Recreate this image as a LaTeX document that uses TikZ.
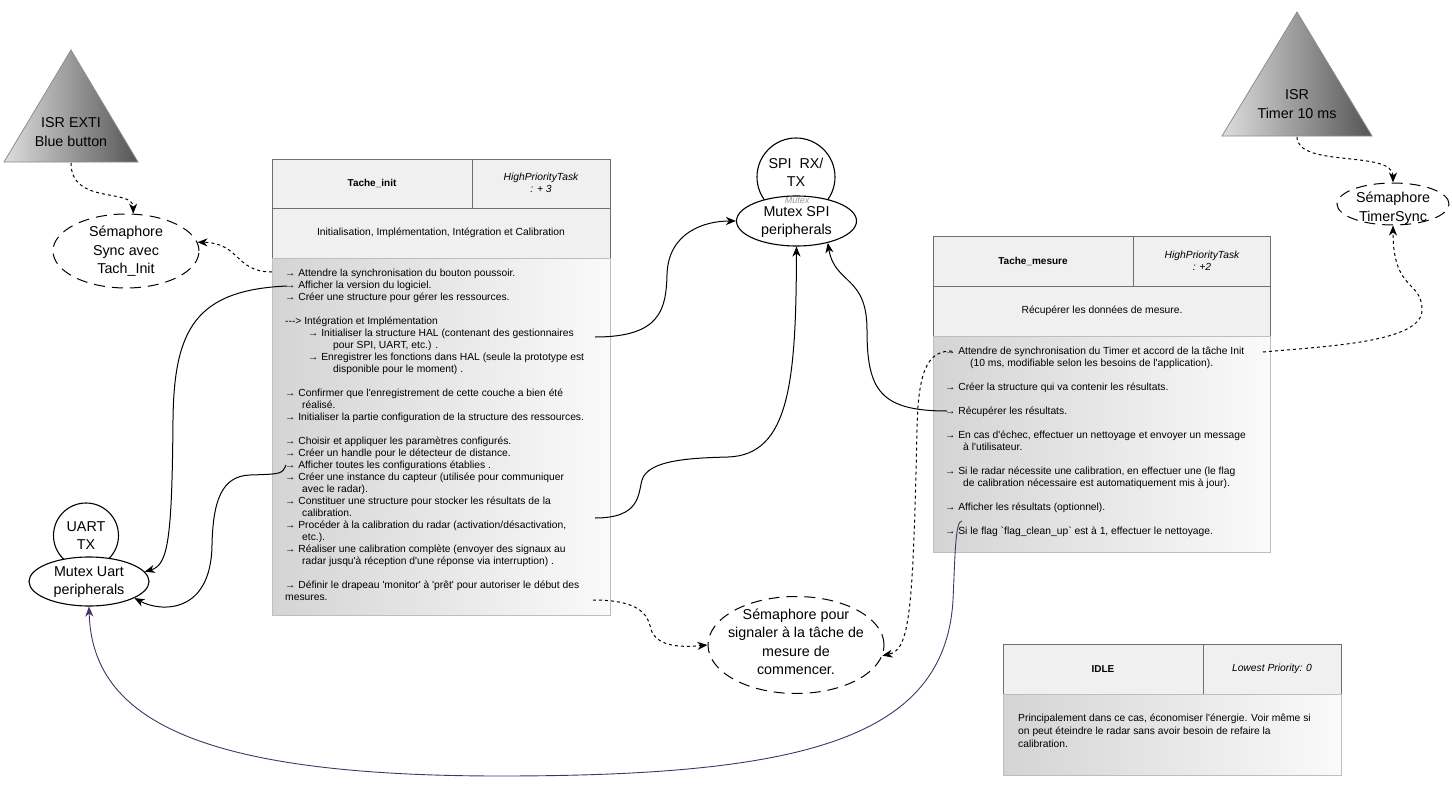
\documentclass[tikz,border=0pt]{standalone}
\usepackage{fontspec}
\setmainfont{Liberation Sans}
\usetikzlibrary{arrows.meta,shapes.geometric}
\definecolor{headfill}{RGB}{240,240,240}
\definecolor{headline}{RGB}{110,110,110}
\definecolor{bodyline}{RGB}{190,190,190}
\definecolor{bodydark}{RGB}{212,212,212}
\definecolor{bodylight}{RGB}{250,250,250}
\definecolor{isrlight}{RGB}{222,222,222}
\definecolor{isrdark}{RGB}{85,85,85}
\definecolor{uartlink}{RGB}{70,50,100}
\newcommand\apos{\textquotesingle}
\newcommand\bquote{\textasciigrave}

\begin{document}
\begin{tikzpicture}[x=1pt,y=1pt,yscale=-1,xscale=1,
  smalltxt/.style={font=\fontsize{10.3}{12}\selectfont},
  bigtxt/.style={font=\fontsize{14.3}{18.5}\selectfont, align=center, inner sep=0pt},
  bodytxt/.style={smalltxt, anchor=north west, inner sep=0pt, align=left},
  headcell/.style={draw=headline, fill=headfill, line width=0.9pt},
  bodycell/.style={draw=bodyline, left color=bodydark, right color=bodylight, line width=0.9pt},
  isrshape/.style={draw=black!45, left color=isrlight, right color=isrdark, line width=0.8pt},
  semell/.style={ellipse, draw, line width=1pt, dash pattern=on 11pt off 7pt, inner sep=0pt},
  mutexell/.style={ellipse, draw, fill=white, line width=1.1pt, inner sep=0pt},
  rescirc/.style={circle, draw, fill=white, line width=1.1pt, inner sep=0pt},
  conn/.style={line width=1pt, -{Stealth[length=10pt,width=8pt,inset=3pt]}},
  semconn/.style={conn, dash pattern=on 3pt off 3pt},
  ]
\useasboundingbox (0,0) rectangle (1452,792);

%Shape: Triangle ISR EXTI
\draw[isrshape] (71,50) -- (138,162) -- (4,162) -- cycle ;
\node[bigtxt] (extitxt) at (71,132) {ISR EXTI\\Blue button};
\coordinate (extibot) at (71,163);

%Shape: Triangle ISR Timer
\draw[isrshape] (1297,12) -- (1372,136) -- (1222,136) -- cycle ;
\node[bigtxt] (timtxt) at (1297,104) {ISR\\Timer 10 ms};
\coordinate (timbot) at (1297,137);

%Shape: Ellipse semaphores
\node[semell, minimum width=146pt, minimum height=74pt] (syncsem) at (126,251) {};
\node[bigtxt] (synctxt) at (126,251.5) {Sémaphore\\Sync avec\\Tach\_Init};
\node[semell, minimum width=112pt, minimum height=42pt] (timersem) at (1393,204) {};
\node[bigtxt] (timersemtxt) at (1393,208) {Sémaphore\\TimerSync};
\node[semell, minimum width=176pt, minimum height=97pt] (sigsem) at (796,645) {};
\node[bigtxt] (sigtxt) at (796,642) {Sémaphore pour\\signaler à la tâche de\\mesure de\\commencer.};

%Shape: Circle + Ellipse SPI
\node[rescirc, minimum size=78pt] (spicirc) at (796,177) {};
\node[bigtxt] (spitxt) at (796,172.5) {SPI\ \ RX/\\TX};
\node[mutexell, minimum width=120pt, minimum height=50pt] (mutexspi) at (796.5,221) {};
\node[bigtxt] (mutexspitxt) at (796.5,222) {Mutex SPI\\peripherals};
\node[font=\fontsize{9}{10}\selectfont\itshape, text=black!40, inner sep=0pt] (mutexlbl) at (797,200.5) {Mutex};

%Shape: Circle + Ellipse UART
\node[rescirc, minimum size=65pt] (uartcirc) at (86,535.5) {};
\node[bigtxt] (uarttxt) at (86,535.5) {UART\\TX};
\node[mutexell, minimum width=120pt, minimum height=49pt] (mutexuart) at (89,581.5) {};
\node[bigtxt] (mutexuarttxt) at (89,582) {Mutex Uart\\peripherals};

%Shape: Rectangle Tache_init
\draw[headcell] (272,159) rectangle (472,208) ;
\draw[headcell] (472,159) rectangle (610,208) ;
\draw[headcell] (272,208) rectangle (610,258) ;
\draw[bodycell] (272,258) rectangle (610,615) ;
% Text Node
\node[smalltxt, font=\fontsize{10}{12}\selectfont\bfseries] (ininame) at (372,183.5) {Tache\_init};
\node[smalltxt, font=\fontsize{10.3}{11.5}\selectfont\itshape, align=center] (iniprio) at (541,183) {HighPriorityTask\\: + 3};
\node[smalltxt] (inidesc) at (441,233) {Initialisation, Implémentation, Intégration et Calibration};
\node[bodytxt] (initext) at (285,269) {%
→ Attendre la synchronisation du bouton poussoir.\\
→ Afficher la version du logiciel.\\
→ Créer une structure pour gérer les ressources.\\[12pt]
\mbox{-}\mbox{-}\mbox{-}> Intégration et Implémentation\\
\hspace*{23pt}→ Initialiser la structure HAL (contenant des gestionnaires\\
\hspace*{48pt}pour SPI, UART, etc.) .\\
\hspace*{23pt}→ Enregistrer les fonctions dans HAL (seule la prototype est\\
\hspace*{48pt}disponible pour le moment) .\\[12pt]
→ Confirmer que l\apos enregistrement de cette couche a bien été\\
\hspace*{17pt}réalisé.\\
→ Initialiser la partie configuration de la structure des ressources.\\[12pt]
→ Choisir et appliquer les paramètres configurés.\\
→ Créer un handle pour le détecteur de distance.\\
→ Afficher toutes les configurations établies .\\
→ Créer une instance du capteur (utilisée pour communiquer\\
\hspace*{17pt}avec le radar).\\
→ Constituer une structure pour stocker les résultats de la\\
\hspace*{17pt}calibration.\\
→ Procéder à la calibration du radar (activation/désactivation,\\
\hspace*{17pt}etc.).\\
→ Réaliser une calibration complète (envoyer des signaux au\\
\hspace*{17pt}radar jusqu\apos à réception d\apos une réponse via interruption) .\\[12pt]
→ Définir le drapeau \apos monitor\apos\ à \apos prêt\apos\ pour autoriser le début des\\
mesures.};
\coordinate (iniA) at (272,272);
\coordinate (iniB) at (287,286);
\coordinate (iniH) at (595,337);
\coordinate (iniE) at (286,465);
\coordinate (iniC) at (595,518);
\coordinate (iniM) at (593,600);

%Shape: Rectangle Tache_mesure
\draw[headcell] (933,236) rectangle (1133,286) ;
\draw[headcell] (1133,236) rectangle (1270,286) ;
\draw[headcell] (933,286) rectangle (1270,336) ;
\draw[bodycell] (933,336) rectangle (1270,552) ;
% Text Node
\node[smalltxt, font=\fontsize{10}{12}\selectfont\bfseries] (mesname) at (1033,261.5) {Tache\_mesure};
\node[smalltxt, font=\fontsize{10.3}{11.5}\selectfont\itshape, align=center] (mesprio) at (1202,261) {HighPriorityTask\\: +2};
\node[smalltxt] (mesdesc) at (1102,311) {Récupérer les données de mesure.};
\node[bodytxt] (mestext) at (945,347) {%
→ Attendre de synchronisation du Timer et accord de la tâche Init\\
\hspace*{25pt}(10 ms, modifiable selon les besoins de l\apos application).\\[12pt]
→ Créer la structure qui va contenir les résultats.\\[12pt]
→ Récupérer les résultats.\\[12pt]
→ En cas d\apos échec, effectuer un nettoyage et envoyer un message\\
\hspace*{18pt}à l\apos utilisateur.\\[12pt]
→ Si le radar nécessite une calibration, en effectuer une (le flag\\
\hspace*{18pt}de calibration nécessaire est automatiquement mis à jour).\\[12pt]
→ Afficher les résultats (optionnel).\\[12pt]
→ Si le flag \bquote flag\_clean\_up\bquote\ est à 1, effectuer le nettoyage.};
\coordinate (mesA) at (952,351);
\coordinate (mesAr) at (1263,352);
\coordinate (mesR) at (947,411);
\coordinate (mesF) at (962,521);

%Shape: Rectangle IDLE
\draw[headcell] (1003,644) rectangle (1203,694) ;
\draw[headcell] (1203,644) rectangle (1341,694) ;
\draw[bodycell] (1003,694) rectangle (1341,775) ;
% Text Node
\node[smalltxt, font=\fontsize{10}{12}\selectfont\bfseries] (idlename) at (1103,669) {IDLE};
\node[smalltxt, font=\fontsize{10.3}{12}\selectfont\itshape] (idleprio) at (1272,669) {Lowest Priority: 0};
\node[bodytxt, font=\fontsize{10.3}{13}\selectfont] (idletext) at (1018,713.5) {%
Principalement dans ce cas, économiser l\apos énergie. Voir même si\\
on peut éteindre le radar sans avoir besoin de refaire la\\
calibration.};

%Curve Lines semaphores
\draw[semconn] (extibot) .. controls (71,205) and (133,188) .. (syncsem.79) ;
\draw[semconn] (iniA) .. controls (235,272) and (240,243) .. (syncsem.7) ;
\draw[semconn] (timbot) .. controls (1297,168) and (1393,150) .. (timersem.north) ;
\draw[semconn] (mesAr) .. controls (1330,346) and (1422,342) .. (1422,310) .. controls (1422,280) and (1393,292) .. (timersem.south) ;
\draw[semconn] (iniM) .. controls (650,600) and (648,622) .. (652,632) .. controls (660,648) and (685,647) .. (sigsem.west) ;
\draw[semconn] (mesA) .. controls (930,351) and (918,365) .. (917,430) .. controls (913,610) and (910,650) .. (sigsem.-7) ;

%Curve Lines mutex
\draw[conn] (iniB) .. controls (195,290) and (174,330) .. (173,420) .. controls (172,540) and (168,565) .. (mutexuart.10) ;
\draw[conn] (iniE) .. controls (282,474) .. (250,475) .. controls (222,476) and (213,500) .. (212,545) .. controls (211,615) and (160,612) .. (mutexuart.-20) ;
\draw[conn] (iniH) .. controls (660,337) and (666,310) .. (667,275) .. controls (668,232) and (705,221) .. (mutexspi.west) ;
\draw[conn] (iniC) .. controls (640,518) and (638,495) .. (642,480) .. controls (648,460) and (690,458) .. (728,457) .. controls (790,455) and (796,380) .. (mutexspi.south) ;
\draw[conn] (mesR) .. controls (880,411) and (867,390) .. (867,330) .. controls (867,275) and (835,285) .. (mutexspi.-35) ;
\draw[conn, draw=uartlink, line width=0.9pt, -{Stealth[length=10pt,width=8pt,inset=3pt,fill=uartlink]}] (mesF) .. controls (955,520) and (955,560) .. (953,600) .. controls (945,740) and (800,776) .. (500,776) .. controls (200,776) and (92,720) .. (mutexuart.south) ;

\end{tikzpicture}
\end{document}
